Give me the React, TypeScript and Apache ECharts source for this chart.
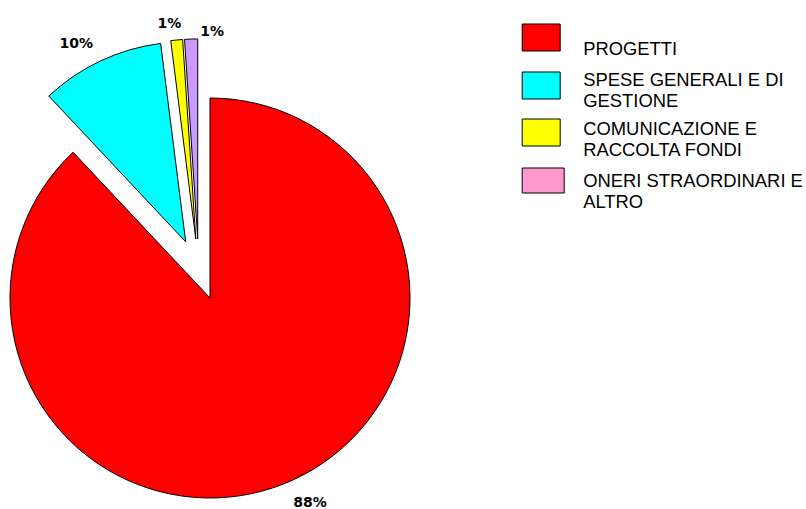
import React, { useEffect, useRef } from 'react';
import * as echarts from 'echarts';

// ---- data ----
const categories = [
  'PROGETTI',
  'SPESE GENERALI E DI GESTIONE',
  'COMUNICAZIONE E RACCOLTA FONDI',
  'ONERI STRAORDINARI E ALTRO',
];
const legendLines = [
  ['PROGETTI'],
  ['SPESE GENERALI E DI', 'GESTIONE'],
  ['COMUNICAZIONE E', 'RACCOLTA FONDI'],
  ['ONERI STRAORDINARI E', 'ALTRO'],
];
const values = [88, 10, 0.95, 1.05];

// ---- styles / layout ----
const sliceColors = ['#FF0000', '#00FFFF', '#FFFF00', '#CC99FF'];
const legendColors = ['#FF0000', '#00FFFF', '#FFFF00', '#FF99CC'];
const labelNudges: [number, number][] = [
  [21.4, 17.8],
  [-19.3, -17.4],
  [-2.4, -17.4],
  [25.9, -8.3],
];
const legendLayout = [
  { top: 16, w: 38, h: 27, spacer: 22, padLeft: 18 },
  { top: 60.5, w: 38, h: 27, spacer: 8, padLeft: 18 },
  { top: 105.5, w: 38, h: 27, spacer: 12, padLeft: 18 },
  { top: 149.5, w: 42, h: 25, spacer: 20, padLeft: 14 },
];

export default function App() {
  const ref = useRef<HTMLDivElement>(null);
  useEffect(() => {
    if (!ref.current) return;
    const chart = echarts.init(ref.current, undefined, { renderer: 'svg' });
    const option: any = {
      animation: false,
      backgroundColor: '#FFFFFF',
      legend: legendLayout.map((l, i) => ({
        orient: 'vertical',
        left: 521.7,
        top: l.top,
        padding: 0,
        itemWidth: l.w,
        itemHeight: l.h,
        icon: 'rect',
        selectedMode: false,
        data: [
          {
            name: categories[i],
            itemStyle: { color: legendColors[i], borderColor: '#000', borderWidth: 1 },
          },
        ],
        formatter: (name: string) => {
          const lines = legendLines[categories.indexOf(name)];
          return ['{s| }'].concat(lines.map((t) => '{t|' + t + '}')).join('\n');
        },
        textStyle: {
          fontFamily: 'Liberation Sans, Arial, sans-serif',
          fontSize: 18.4,
          lineHeight: 21,
          color: '#000',
          padding: [0, 0, 0, l.padLeft],
          rich: {
            s: { fontSize: 4, lineHeight: l.spacer, height: l.spacer },
            t: {
              fontFamily: 'Liberation Sans, Arial, sans-serif',
              fontSize: 18.4,
              lineHeight: 21,
              color: '#000',
            },
          },
        },
      })),
      series: [
        {
          type: 'pie',
          center: [198.74, 269.55],
          radius: 200,
          startAngle: 90,
          clockwise: true,
          selectedMode: 'multiple',
          selectedOffset: 30.6,
          avoidLabelOverlap: false,
          emphasis: { disabled: true },
          itemStyle: { borderColor: '#000', borderWidth: 1 },
          label: {
            show: true,
            position: 'outside',
            distanceToLabelLine: 5,
            formatter: (p: any) => Math.round(p.percent) + '%',
            fontFamily: 'Verdana, DejaVu Sans, sans-serif',
            fontWeight: 'bold',
            fontSize: 14,
            color: '#000',
          },
          labelLine: { show: false, length: 0, length2: 0 },
          labelLayout: (params: any) => {
            const n = labelNudges[params.dataIndex];
            return { dx: n[0], dy: n[1], align: 'center', verticalAlign: 'middle' };
          },
          data: categories.map((c, i) => ({
            name: c,
            value: values[i],
            selected: true,
            itemStyle: { color: sliceColors[i] },
            select: { itemStyle: { color: sliceColors[i], borderColor: '#000', borderWidth: 1 } },
          })),
        },
      ],
    };
    chart.setOption(option);
    return () => chart.dispose();
  }, []);
  return (
    <div
      ref={ref}
      style={{ position: 'fixed', left: 0, top: 0, width: 806, height: 509 }}
    />
  );
}
